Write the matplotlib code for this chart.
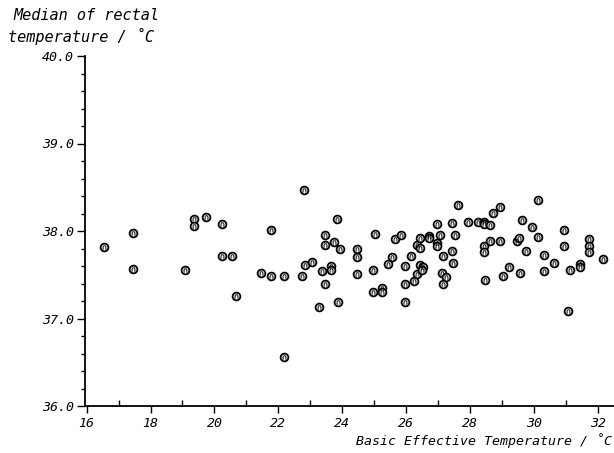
import numpy as np
import matplotlib
matplotlib.use("Agg")
import matplotlib.pyplot as plt
from matplotlib.ticker import MultipleLocator

# basic effective temperature (deg C) and median rectal temperature (deg C)
bet = [16.56, 17.44, 17.44, 19.07, 19.37, 19.37, 19.74, 20.23, 20.23, 20.55,
       20.67, 21.45, 21.76, 21.77, 22.17, 22.19, 22.74, 22.81, 22.83, 23.06,
       23.27, 23.37, 23.45, 23.45, 23.47, 23.65, 23.65, 23.74, 23.82, 23.85,
       23.94, 24.45, 24.45, 24.45, 24.95, 24.95, 25.03, 25.25, 25.25, 25.44,
       25.57, 25.65, 25.85, 25.96, 25.96, 25.96, 26.15, 26.25, 26.33, 26.34,
       26.44, 26.44, 26.44, 26.52, 26.48, 26.72, 26.72, 26.95, 26.95, 26.95,
       27.05, 27.13, 27.15, 27.15, 27.24, 27.43, 27.43, 27.45, 27.53, 27.62,
       27.92, 28.23, 28.44, 28.44, 28.44, 28.44, 28.46, 28.63, 28.63, 28.73,
       28.92, 28.92, 29.03, 29.23, 29.45, 29.53, 29.55, 29.63, 29.74, 29.94,
       30.12, 30.12, 30.32, 30.32, 30.62, 30.93, 30.93, 31.06, 31.13, 31.45,
       31.45, 31.71, 31.71, 31.71, 32.15]
rectal = [37.82, 37.98, 37.57, 37.56, 38.14, 38.06, 38.16, 38.08, 37.71, 37.71,
          37.26, 37.52, 38.01, 37.49, 37.49, 36.56, 37.49, 38.47, 37.61, 37.65,
          37.13, 37.54, 37.95, 37.84, 37.40, 37.60, 37.56, 37.88, 38.14, 37.19,
          37.79, 37.79, 37.70, 37.51, 37.56, 37.30, 37.97, 37.35, 37.30, 37.62,
          37.70, 37.91, 37.96, 37.60, 37.40, 37.19, 37.71, 37.43, 37.84, 37.51,
          37.92, 37.81, 37.61, 37.59, 37.56, 37.94, 37.92, 38.08, 37.86, 37.83,
          37.95, 37.52, 37.71, 37.40, 37.48, 38.09, 37.77, 37.63, 37.95, 38.30,
          38.10, 38.10, 38.10, 38.08, 37.83, 37.76, 37.44, 38.07, 37.89, 38.21,
          38.28, 37.89, 37.49, 37.59, 37.89, 37.92, 37.52, 38.13, 37.77, 38.05,
          38.35, 37.93, 37.73, 37.54, 37.64, 38.01, 37.83, 37.09, 37.56, 37.62,
          37.59, 37.91, 37.83, 37.76, 37.68]

xticks = [16, 18, 20, 22, 24, 26, 28, 30, 32]
yticks = [36.0, 37.0, 38.0, 39.0, 40.0]

plt.rcParams['font.family'] = ['DejaVu Sans Mono']
plt.rcParams['font.style'] = 'italic'
fs = 9.5

fig = plt.figure(figsize=(6.14, 4.53), dpi=100)
ax = fig.add_axes([85/614, 47/453, 1 - 85/614, (406 - 56)/453])

ax.plot(bet, rectal, 'o', ms=5.6, mfc='white', mec='black', mew=1.3,
        clip_on=False)
# small arch drawn inside each ring
ax.plot(bet, rectal, marker='$\\cap$', ls='none', ms=3.0, color='black',
        mew=0.2, clip_on=False)

ax.set_xlim(15.95, 32.5)
ax.set_ylim(36.0, 40.0)

ax.spines['top'].set_visible(False)
ax.spines['right'].set_visible(False)
for s in ['left', 'bottom']:
    ax.spines[s].set_linewidth(1.3)

ax.set_xticks(xticks)
ax.set_xticklabels([str(t) for t in xticks])
ax.set_yticks(yticks)
ax.set_yticklabels(['%.1f' % t for t in yticks])
ax.xaxis.set_minor_locator(MultipleLocator(1))
ax.yaxis.set_minor_locator(MultipleLocator(0.2))

ax.tick_params(axis='x', which='major', direction='out', length=5, width=1,
               labelsize=fs, pad=3)
ax.tick_params(axis='x', which='minor', direction='in', length=4, width=1)
ax.tick_params(axis='y', which='major', direction='out', length=6, width=1,
               labelsize=fs, pad=2)
ax.tick_params(axis='y', which='minor', direction='out', length=3, width=1)

fig.text(612/614, 1 - 441/453, 'Basic Effective Temperature / \u02daC',
         ha='right', va='center', fontsize=fs)
fig.text(13/614, 1 - 16/453, 'Median of rectal', ha='left', va='center',
         fontsize=11)
fig.text(8/614, 1 - 36/453, 'temperature / \u02daC', ha='left', va='center',
         fontsize=11)

fig.savefig('out.png', dpi=100)
